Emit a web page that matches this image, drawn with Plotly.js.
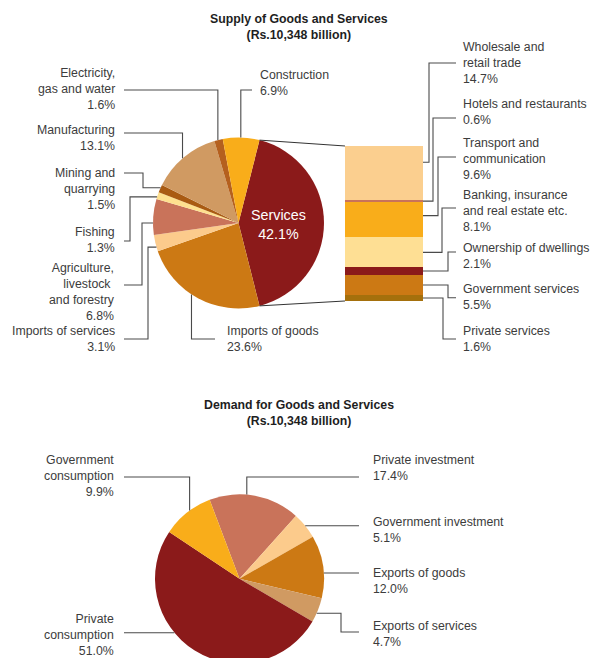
<!DOCTYPE html>
<html><head><meta charset="utf-8">
<script src="https://cdn.plot.ly/plotly-3.0.1.min.js"></script>
<style>html,body{margin:0;padding:0;overflow:hidden;background:#fff}#chart{width:595px;height:670px}</style>
</head><body><div id="chart"></div>
<script>
// ---------------- DATA ----------------
const supplyTitle = ["Supply of Goods and Services", "(Rs.10,348 billion)"];
const supplyNames = [["Services"], ["Imports of goods"], ["Imports of services"], ["Agriculture,", "livestock\u00a0", "and forestry"], ["Fishing"], ["Mining and", "quarrying"], ["Manufacturing"], ["Electricity,", "gas and water"], ["Construction"]];
const supplyValues = [42.1, 23.6, 3.1, 6.8, 1.3, 1.5, 13.1, 1.6, 6.9];
const supplyColors = ["#8b1a1a", "#cc7914", "#fccb8c", "#c9735a", "#fee08f", "#a95b12", "#d09a62", "#b5601e", "#f9ad1a"];

const serviceNames = [["Wholesale and", "retail trade"], ["Hotels and restaurants"], ["Transport and", "communication"], ["Banking, insurance", "and real estate etc."], ["Ownership of dwellings"], ["Government services"], ["Private services"]];
const serviceValues = [14.7, 0.6, 9.6, 8.1, 2.1, 5.5, 1.6];
const serviceColors = ["#fbcf8f", "#c9735a", "#f9ad1a", "#fedf94", "#8b1a1a", "#cc7914", "#a5700c"];

const demandTitle = ["Demand for Goods and Services", "(Rs.10,348 billion)"];
const demandNames = [["Private investment"], ["Government investment"], ["Exports of goods"], ["Exports of services"], ["Private", "consumption"], ["Government", "consumption"]];
const demandValues = [17.4, 5.1, 12.0, 4.7, 51.0, 9.9];
const demandColors = ["#c9735a", "#fccb8c", "#cc7914", "#d09a62", "#8b1a1a", "#f9ad1a"];

// ---------------- LAYOUT GEOMETRY (pixels) ----------------
const W = 595, H = 670;
const FONT = "Liberation Sans, Arial, sans-serif";
const TXT = "#3c3c3c", LINE = "#4a4a4a";
const pie1 = {cx: 238.5, cy: 223, r: 85.5};
const pie2 = {cx: 239.5, cy: 578.8, r: 84.5, rot: -20.7};
const bar = {x0: 345, x1: 423, top: 146, bottom: 301};

const supplyPos = [
  {inside: true, x: 278, y: 224.5},
  {x: 227, y: 339, side: "left", route: "hv", lx: 215, ly: 339, f: 0.56},
  {x: 115, y: 339, side: "right", route: "hvh", lx: 124, ly: 339, vx: 148, f: 0.26},
  {x: 115, y: 292, side: "right", route: "hvh", lx: 124, ly: 285, vx: 142, f: 0.33},
  {x: 115, y: 240, side: "right", route: "hvh", lx: 124, ly: 241, vx: 130, f: 0.3},
  {x: 115, y: 189, side: "right", route: "hvh", lx: 124, ly: 173, vx: 143, f: 0.6},
  {x: 115, y: 137.5, side: "right", route: "hv", lx: 124, ly: 133, f: 0.48},
  {x: 115, y: 89, side: "right", route: "hv", lx: 124, ly: 90, f: 0.42},
  {x: 260, y: 83, side: "left", route: "hv", lx: 252, ly: 90, f: 0.49}
];
const servicePos = [
  {y: 63, ly: 63, vx: 429, f: 0.3},
  {y: 112, ly: 118, vx: 433, f: 0.5},
  {y: 159, ly: 157, vx: 438, f: 0.38},
  {y: 211, ly: 208, vx: 442, f: 0.5},
  {y: 256, ly: 252, vx: 448, f: 0.5},
  {y: 296.5, ly: 297.7, vx: 448, f: 0.5},
  {y: 339, ly: 339, vx: 443, f: 0.5}
];
const demandPos = [
  {x: 373, y: 467.5, side: "left", route: "hv", lx: 359, ly: 477, f: 0.41},
  {x: 373, y: 529.5, side: "left", route: "h", lx: 359, f: 0.5},
  {x: 373, y: 581, side: "left", route: "h", lx: 359, f: 0.6},
  {x: 373, y: 634, side: "left", route: "hvh", lx: 359, ly: 632, vx: 341, f: 0.63},
  {x: 114, y: 635, side: "right", route: "h", lx: 124, f: 0.6},
  {x: 114, y: 476, side: "right", route: "hv", lx: 124, ly: 477, f: 0.565}
];

// ---------------- HELPERS ----------------
const px = x => x / W, py = y => 1 - y / H;
const sum = a => a.reduce((s, v) => s + v, 0);
const pct = v => v.toFixed(1) + "%";
function sliceAngles(values, rot) {
  const t = sum(values); let a = rot;
  return values.map(v => { const s = a; a += v / t * 360; return [s, a]; });
}
function edge(p, deg) {
  const r = deg * Math.PI / 180;
  return {x: p.cx + p.r * Math.sin(r), y: p.cy - p.r * Math.cos(r)};
}
function pathOf(pts) {
  return pts.map((q, i) => (i ? "L" : "M") + px(q[0]).toFixed(5) + "," + py(q[1]).toFixed(5)).join(" ");
}
function route(pos, E) {
  if (pos.route === "hv") return [[pos.lx, pos.ly], [E.x, pos.ly], [E.x, E.y]];
  if (pos.route === "hvh") return [[pos.lx, pos.ly], [pos.vx, pos.ly], [pos.vx, E.y], [E.x, E.y]];
  return [[pos.lx, E.y], [E.x, E.y]];
}
const shapes = [], annotations = [];
function addPath(pts, color, w) {
  shapes.push({type: "path", xref: "paper", yref: "paper", path: pathOf(pts), line: {color: color || LINE, width: w || 1.1}});
}
function addLabel(text, x, y, side, opts) {
  opts = opts || {};
  annotations.push({
    xref: "paper", yref: "paper", x: px(x), y: py(y), text: text, showarrow: false,
    xanchor: side, yanchor: "middle", align: side, borderpad: 0, borderwidth: 0,
    font: {family: FONT, size: opts.size || 12.3, color: opts.color || TXT, weight: opts.weight || "normal"}
  });
}
function pieDomain(p) {
  return {x: [px(p.cx - p.r), px(p.cx + p.r)], y: [py(p.cy + p.r), py(p.cy - p.r)]};
}

// ---------------- TRACES ----------------
const rot1 = 90 - supplyValues[0] / sum(supplyValues) * 180;
const traces = [];
traces.push({
  type: "pie", values: supplyValues, labels: supplyNames.map(n => n.join(" ")),
  marker: {colors: supplyColors, line: {width: 0}}, sort: false, direction: "clockwise",
  rotation: rot1, textinfo: "none", hoverinfo: "none", showlegend: false, domain: pieDomain(pie1)
});
traces.push({
  type: "pie", values: demandValues, labels: demandNames.map(n => n.join(" ")),
  marker: {colors: demandColors, line: {width: 0}}, sort: false, direction: "clockwise",
  rotation: pie2.rot, textinfo: "none", hoverinfo: "none", showlegend: false, domain: pieDomain(pie2)
});
// stacked bar: bottom segment first
for (let i = serviceValues.length - 1; i >= 0; i--) {
  traces.push({
    type: "bar", x: [0], y: [serviceValues[i]], width: [1], name: serviceNames[i].join(" "),
    marker: {color: serviceColors[i], line: {width: 0}}, xaxis: "x", yaxis: "y",
    hoverinfo: "none", showlegend: false
  });
}

// ---------------- ANNOTATIONS & LEADER LINES ----------------
addLabel("<b>" + supplyTitle.join("<br>") + "</b>", 299, 27, "center", {color: "#1e1e1e", size: 12.3});
addLabel("<b>" + demandTitle.join("<br>") + "</b>", 299, 413, "center", {color: "#1e1e1e", size: 12.3});

const ang1 = sliceAngles(supplyValues, rot1);
supplyNames.forEach((n, i) => {
  const p = supplyPos[i];
  const text = n.concat([pct(supplyValues[i])]).join("<br>");
  if (p.inside) { addLabel(text, p.x, p.y, "center", {color: "#ffffff", size: 14.3}); return; }
  addLabel(text, p.x, p.y, p.side);
  const a = ang1[i][0] + p.f * (ang1[i][1] - ang1[i][0]);
  addPath(route(p, edge(pie1, a)));
});

// pie -> bar connectors
const sA = edge(pie1, ang1[0][0]), sB = edge(pie1, ang1[0][1]);
addPath([[sA.x, sA.y], [bar.x0, bar.top]], "#333", 1);
addPath([[sB.x, sB.y], [bar.x0, bar.bottom]], "#333", 1);

const svcTotal = sum(serviceValues), barH = bar.bottom - bar.top;
let cum = 0;
serviceNames.forEach((n, i) => {
  const p = servicePos[i];
  const top = bar.top + cum / svcTotal * barH;
  const bot = bar.top + (cum + serviceValues[i]) / svcTotal * barH;
  cum += serviceValues[i];
  addLabel(n.concat([pct(serviceValues[i])]).join("<br>"), 463, p.y, "left");
  const ay = top + p.f * (bot - top);
  addPath([[456, p.ly], [p.vx, p.ly], [p.vx, ay], [bar.x1, ay]]);
});

const ang2 = sliceAngles(demandValues, pie2.rot);
demandNames.forEach((n, i) => {
  const p = demandPos[i];
  addLabel(n.concat([pct(demandValues[i])]).join("<br>"), p.x, p.y, p.side);
  const a = ang2[i][0] + p.f * (ang2[i][1] - ang2[i][0]);
  addPath(route(p, edge(pie2, a)));
});

const layout = {
  width: W, height: H, margin: {l: 0, r: 0, t: 0, b: 0, pad: 0},
  paper_bgcolor: "#ffffff", plot_bgcolor: "rgba(0,0,0,0)",
  barmode: "stack", bargap: 0,
  xaxis: {domain: [px(bar.x0), px(bar.x1)], range: [-0.5, 0.5], visible: false, fixedrange: true},
  yaxis: {domain: [py(bar.bottom), py(bar.top)], range: [0, svcTotal], visible: false, fixedrange: true},
  shapes: shapes, annotations: annotations, showlegend: false, font: {family: FONT}
};
Plotly.newPlot("chart", traces, layout, {staticPlot: true, displayModeBar: false});
</script></body></html>
